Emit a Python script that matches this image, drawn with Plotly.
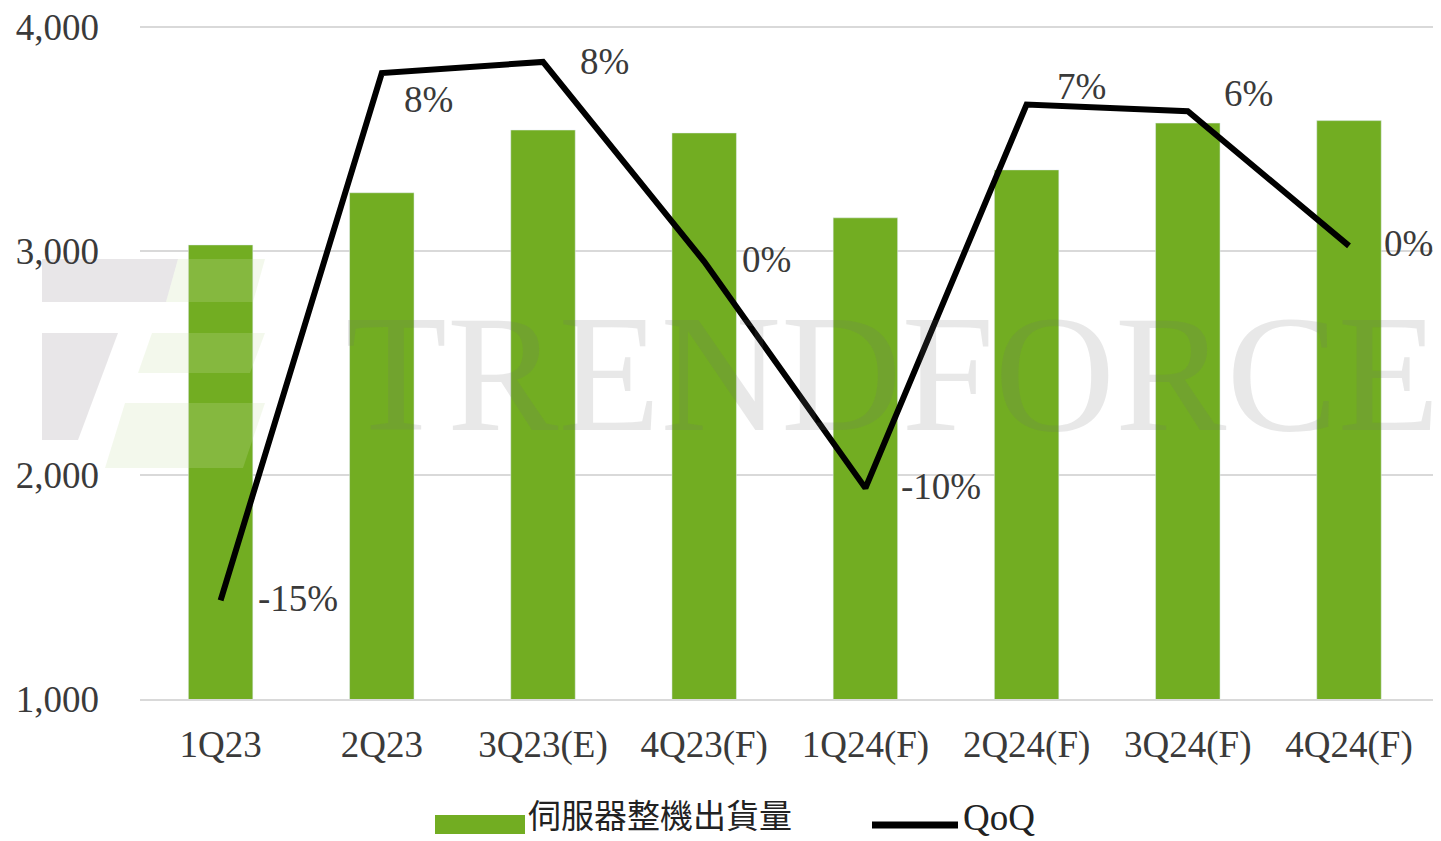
import plotly.graph_objects as go

# ---------------- data ----------------
categories = ["1Q23", "2Q23", "3Q23(E)", "4Q23(F)", "1Q24(F)", "2Q24(F)", "3Q24(F)", "4Q24(F)"]
shipments = [3027, 3260, 3540, 3527, 3148, 3362, 3571, 3582]
qoq_pct = [-15.6, 7.9, 8.4, -0.5, -10.6, 6.5, 6.2, 0.2]
qoq_labels = ["-15%", "8%", "8%", "0%", "-10%", "7%", "6%", "0%"]
y_ticks = [1000, 2000, 3000, 4000]
bar_name = "伺服器整機出貨量"
line_name = "QoQ"

# ---------------- style ----------------
# page body has an 8px margin: the figure starts at screen (8, 8)
OFF = 8
W, H = 1441 - OFF, 841 - OFF
PL, PR, PT, PB = 140, 1435, 26, 699          # plot area in screen pixels
L, R, T, B = PL - OFF, 1441 - PR, PT - OFF, 841 - PB
PW, PH = PR - PL, PB - PT
SERIF = "Liberation Serif, Times New Roman, serif"
CJK = "Noto Sans CJK TC, Noto Sans CJK SC, sans-serif"
TXT = "#3a3a3a"
GREEN = "#72AD22"
label_offsets = [(35, -2), (20, 26), (35, 0), (36, -2), (34, -2), (28, -18), (34, -18), (33, -2)]


def px(x):
    return (x - PL) / PW


def py(y):
    return (PB - y) / PH


fig = go.Figure()
fig.add_trace(go.Bar(x=categories, y=shipments, name=bar_name, marker_color=GREEN,
                     width=0.4, yaxis="y", showlegend=False))
fig.add_trace(go.Scatter(x=categories, y=qoq_pct, name=line_name, mode="lines",
                         line=dict(color="black", width=6), yaxis="y2", showlegend=False))

annotations = []
for c, v, t, (dx, dy) in zip(categories, qoq_pct, qoq_labels, label_offsets):
    annotations.append(dict(x=c, y=v, xref="x", yref="y2", text=t, showarrow=False,
                            xanchor="left", yanchor="middle", xshift=dx, yshift=-dy,
                            font=dict(family=SERIF, size=37, color=TXT)))

# watermark
annotations.append(dict(x=px(892), y=py(374), xref="paper", yref="paper", text="TRENDFORCE",
                        showarrow=False, xanchor="center", yanchor="middle",
                        font=dict(family=SERIF, size=167, color="rgba(110,110,110,0.16)")))

# custom legend
annotations.append(dict(x=px(526), y=py(840), xref="paper", yref="paper", text=bar_name,
                        showarrow=False, xanchor="left", yanchor="bottom",
                        font=dict(family=CJK, size=33, color="#222")))
annotations.append(dict(x=px(961), y=py(840), xref="paper", yref="paper", text=line_name,
                        showarrow=False, xanchor="left", yanchor="bottom",
                        font=dict(family=SERIF, size=37, color="#222")))


def poly(pts):
    return "M " + " L ".join(f"{px(a)},{py(b)}" for a, b in pts) + " Z"


shapes = [
    dict(type="rect", xref="paper", yref="paper", x0=px(435), x1=px(525), y0=py(834), y1=py(815),
         fillcolor=GREEN, line=dict(width=0)),
    dict(type="line", xref="paper", yref="paper", x0=px(872), x1=px(958), y0=py(825), y1=py(825),
         line=dict(color="black", width=7)),
    # faint logo watermark
    dict(type="path", xref="paper", yref="paper", path=poly([(42, 259), (178, 259), (166, 302), (42, 302)]),
         fillcolor="rgba(150,140,150,0.22)", line=dict(width=0), layer="below"),
    dict(type="path", xref="paper", yref="paper", path=poly([(42, 333), (118, 333), (78, 440), (42, 440)]),
         fillcolor="rgba(150,140,150,0.22)", line=dict(width=0), layer="below"),
    dict(type="path", xref="paper", yref="paper", path=poly([(178, 259), (265, 259), (253, 302), (166, 302)]),
         fillcolor="rgba(200,225,170,0.22)", line=dict(width=0), layer="above"),
    dict(type="path", xref="paper", yref="paper", path=poly([(152, 333), (265, 333), (250, 373), (138, 373)]),
         fillcolor="rgba(200,225,170,0.22)", line=dict(width=0), layer="above"),
    dict(type="path", xref="paper", yref="paper", path=poly([(125, 403), (265, 403), (243, 468), (105, 468)]),
         fillcolor="rgba(200,225,170,0.22)", line=dict(width=0), layer="above"),
]

fig.update_layout(
    width=W, height=H,
    margin=dict(l=L, r=R, t=T, b=B, pad=0, autoexpand=False),
    paper_bgcolor="white", plot_bgcolor="white",
    xaxis=dict(type="category", showgrid=False, showline=True, linecolor="#d9d9d9", linewidth=2,
               ticks="", ticklabelstandoff=12, automargin=False,
               tickfont=dict(family=SERIF, size=37, color=TXT)),
    yaxis=dict(range=[999.5, 4004.5], tickvals=y_ticks, tickformat=",", showgrid=True,
               gridcolor="#d9d9d9", gridwidth=2, zeroline=False, showline=False, ticks="",
               ticklabelstandoff=40, ticklabeloverflow="allow", automargin=False,
               tickfont=dict(family=SERIF, size=37, color=TXT)),
    yaxis2=dict(range=[-20, 10], overlaying="y", side="right", visible=False, showgrid=False),
    showlegend=False,
    annotations=annotations,
    shapes=shapes,
)

fig.write_html("out.html")
